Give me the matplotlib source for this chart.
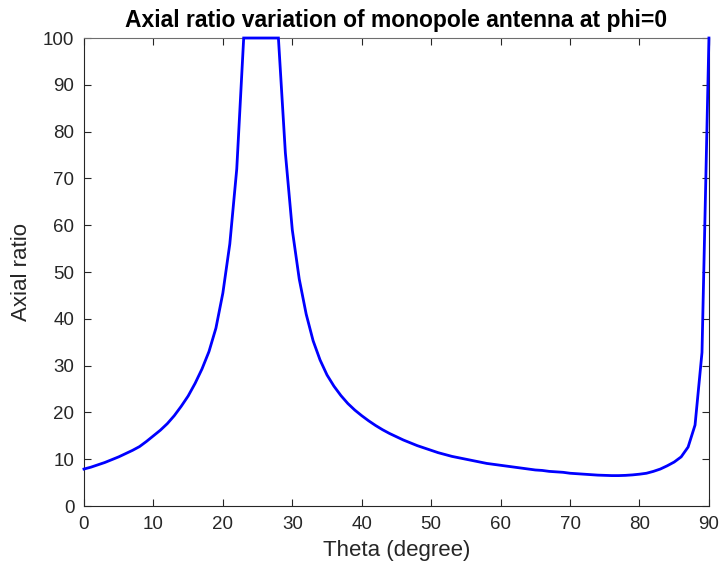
import matplotlib
matplotlib.use("Agg")
import matplotlib.pyplot as plt

theta = list(range(0, 91))
axial_ratio = [
    7.9, 8.3, 8.8, 9.3, 9.9, 10.5, 11.2, 11.9, 12.7, 13.8,
    15.0, 16.2, 17.6, 19.3, 21.3, 23.5, 26.2, 29.3, 33.0, 38.0,
    45.5, 56.0, 72.0, 100, 100, 100, 100, 100, 100, 75.5,
    59.0, 48.5, 41.0, 35.3, 31.2, 28.0, 25.6, 23.6, 21.9, 20.5,
    19.3, 18.2, 17.2, 16.3, 15.5, 14.8, 14.1, 13.5, 12.9, 12.4,
    11.9, 11.4, 11.0, 10.6, 10.3, 10.0, 9.7, 9.4, 9.1, 8.9,
    8.7, 8.5, 8.3, 8.1, 7.9, 7.7, 7.6, 7.4, 7.3, 7.2,
    7.0, 6.9, 6.8, 6.7, 6.6, 6.55, 6.5, 6.5, 6.55, 6.65,
    6.8, 7.0, 7.4, 7.9, 8.6, 9.4, 10.5, 12.6, 17.3, 32.8,
    100,
]
xticks = [0, 10, 20, 30, 40, 50, 60, 70, 80, 90]
yticks = [0, 10, 20, 30, 40, 50, 60, 70, 80, 90, 100]

plt.rcParams['font.family'] = ['Liberation Sans', 'DejaVu Sans']

fig = plt.figure(figsize=(7.19, 5.69), dpi=100)
ax = fig.add_axes([0.1168, 0.1107, 0.8692, 0.8225])
ax.plot(theta, axial_ratio, color=(0, 0, 1), linewidth=2.0, zorder=3,
        clip_on=False, solid_joinstyle='miter')
ax.set_xlim(0, 90)
ax.set_ylim(0, 100)
ax.set_xticks(xticks)
ax.set_yticks(yticks)
ax.tick_params(direction='in', top=True, right=True, length=5, width=0.8,
               labelsize=13.5, colors='#262626', pad=7)
for s in ax.spines.values():
    s.set_color('#262626')
    s.set_linewidth(0.8)
ax.spines['top'].set_color('#6e6e6e')
ax.set_xlabel('Theta (degree)', fontsize=16, color='#262626', labelpad=5)
ax.set_ylabel('Axial ratio', fontsize=16, color='#262626', labelpad=8)
ax.set_title('Axial ratio variation of monopole antenna at phi=0',
             fontsize=16.5, fontweight='bold', pad=8)
fig.savefig('out.png', dpi=100)
